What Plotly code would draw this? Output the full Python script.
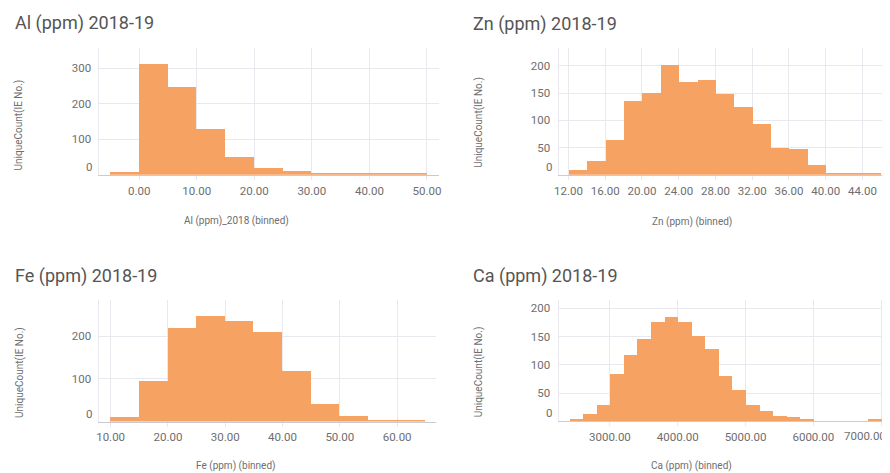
import plotly.graph_objects as go

# ---------------- data ----------------
al_bin_starts = [-5, 0, 5, 10, 15, 20, 25, 30, 35, 40, 45]
al_counts = [9, 311, 246, 128, 50, 20, 11, 6, 3, 2, 2]
al_bin_width = 5

zn_bin_starts = [12, 14, 16, 18, 20, 22, 24, 26, 28, 30, 32, 34, 36, 38, 40, 42, 44]
zn_counts = [8, 24, 63, 135, 149, 201, 170, 174, 148, 124, 93, 49, 47, 18, 3, 2, 2]
zn_bin_width = 2

fe_bin_starts = [10, 15, 20, 25, 30, 35, 40, 45, 50, 55, 60]
fe_counts = [10, 94, 220, 248, 235, 209, 118, 41, 14, 4, 2]
fe_bin_width = 5

ca_bin_starts = [2400, 2600, 2800, 3000, 3200, 3400, 3600, 3800, 4000, 4200,
                 4400, 4600, 4800, 5000, 5200, 5400, 5600, 5800, 6800]
ca_counts = [4, 13, 28, 84, 118, 145, 175, 185, 176, 150,
             127, 80, 55, 29, 19, 10, 7, 4, 4]
ca_bin_width = 200

titles = ["Al (ppm) 2018-19", "Zn (ppm) 2018-19", "Fe (ppm) 2018-19", "Ca (ppm) 2018-19"]
x_titles = ["Al (ppm)_2018 (binned)", "Zn (ppm) (binned)", "Fe (ppm) (binned)", "Ca (ppm) (binned)"]
y_title = "UniqueCount(IE No.)"

al_xticks = [0, 10, 20, 30, 40, 50]
al_xtick_labels = ["0.00", "10.00", "20.00", "30.00", "40.00", "50.00"]
zn_xticks = [12, 16, 20, 24, 28, 32, 36, 40, 44]
zn_xtick_labels = ["12.00", "16.00", "20.00", "24.00", "28.00", "32.00", "36.00", "40.00", "44.00"]
fe_xticks = [10, 20, 30, 40, 50, 60]
fe_xtick_labels = ["10.00", "20.00", "30.00", "40.00", "50.00", "60.00"]
ca_xticks = [3000, 4000, 5000, 6000, 7000]
ca_xtick_labels = ["3000.00", "4000.00", "5000.00", "6000.00", "7000.00"]

al_yticks = [0, 100, 200, 300]
zn_yticks = [0, 50, 100, 150, 200]
fe_yticks = [0, 100, 200]
ca_yticks = [0, 50, 100, 150, 200]

# ---------------- styling ----------------
# The page body has an 8px default margin: the figure is made 8px smaller
# and every reference pixel position is mapped with that offset.
OFF = 8
W, H = 890 - OFF, 473 - OFF
BAR = "#F6A263"
GRID = "#E8E8EE"
AXIS = "#CACAD4"
TICKC = "#6E6E6E"
TITLEC = "#555555"
FONT = "Roboto"
TFS = 11.5


def px(x):
    return (x - OFF) / W


def py(y):
    return 1 - (y - OFF) / H


panels = [
    # (starts, counts, width, xticks, xlabels, yticks, xrange, yrange, xdom(px), ydom(px))
    (al_bin_starts, al_counts, al_bin_width, al_xticks, al_xtick_labels, al_yticks,
     [-6.9, 52.1], [0, 357], (96, 438), (174.7, 48)),
    (zn_bin_starts, zn_counts, zn_bin_width, zn_xticks, zn_xtick_labels, zn_yticks,
     [10.92, 46.78], [0, 232], (558.3, 890), (174.8, 48.3)),
    (fe_bin_starts, fe_counts, fe_bin_width, fe_xticks, fe_xtick_labels, fe_yticks,
     [8.04, 66.8], [0, 285], (96, 435), (421.5, 300)),
    (ca_bin_starts, ca_counts, ca_bin_width, ca_xticks, ca_xtick_labels, ca_yticks,
     [2243, 7100], [0, 214.5], (558.3, 890), (421.3, 300)),
]

fig = go.Figure()
layout = {}
annotations = []

for i, (starts, counts, bw, xt, xl, yt, xr, yr, xd, yd) in enumerate(panels):
    n = "" if i == 0 else str(i + 1)
    # last label of the Ca axis is pulled inside the figure (as in the reference)
    shown_xl = list(xl)
    if i == 3:
        shown_xl[-1] = ""
        annotations.append(dict(
            text=xl[-1], xref="paper", yref="y4", x=1.0, y=0,
            xanchor="right", yanchor="top", yshift=-6, showarrow=False,
            font=dict(family=FONT, size=TFS, color=TICKC),
        ))
    fig.add_trace(go.Bar(
        x=starts, y=counts, width=bw, offset=0,
        marker=dict(color=BAR, line=dict(width=0)),
        xaxis="x" + n, yaxis="y" + n, showlegend=False,
        hoverinfo="x+y",
    ))
    layout["xaxis" + n] = dict(
        domain=[px(xd[0]), px(xd[1])], range=xr, anchor="y" + n,
        tickvals=xt, ticktext=shown_xl, showgrid=True, gridcolor=GRID, gridwidth=1,
        showline=True, linecolor=AXIS, linewidth=1, zeroline=False,
        ticks="outside", ticklen=4, tickcolor=GRID,
        tickfont=dict(family=FONT, size=TFS, color=TICKC),
        ticklabelstandoff=1, fixedrange=True,
    )
    # "0" label is drawn separately, shifted up (Spotfire-style)
    ytext = ["" if v == 0 else str(v) for v in yt]
    layout["yaxis" + n] = dict(
        domain=[py(yd[0]), py(yd[1])], range=yr, anchor="x" + n,
        tickvals=yt, ticktext=ytext, showgrid=True, gridcolor=GRID, gridwidth=1,
        showline=True, linecolor=GRID, linewidth=1, zeroline=False,
        ticks="", tickfont=dict(family=FONT, size=TFS, color=TICKC),
        ticklabelstandoff=5, fixedrange=True,
    )
    annotations.append(dict(
        text=str(yt[0]), xref="x" + n + " domain", yref="y" + n, x=0, y=yt[0],
        xanchor="right", yanchor="middle", xshift=-5, yshift=8, showarrow=False,
        font=dict(family=FONT, size=TFS, color=TICKC),
    ))

# panel titles
title_pos = [(9, 23.5), (470.5, 24), (9, 275.5), (470.5, 276)]
for t, (x, y) in zip(titles, title_pos):
    annotations.append(dict(
        text=t, xref="paper", yref="paper", x=px(x), y=py(y),
        xanchor="left", yanchor="middle", showarrow=False,
        font=dict(family=FONT, size=18, color=TITLEC),
    ))

# x-axis titles
xt_pos = [(234, 221), (692.5, 221.5), (234, 466), (692.5, 466)]
for t, (x, y) in zip(x_titles, xt_pos):
    annotations.append(dict(
        text=t, xref="paper", yref="paper", x=px(x), y=py(y),
        xanchor="center", yanchor="middle", showarrow=False,
        font=dict(family=FONT, size=10, color=TICKC),
    ))

# y-axis titles
yt_pos = [(15.5, 125), (478.5, 122.5), (15.5, 372.5), (478.5, 372)]
for (x, y) in yt_pos:
    annotations.append(dict(
        text=y_title, xref="paper", yref="paper", x=px(x), y=py(y),
        xanchor="center", yanchor="middle", textangle=-90, showarrow=False,
        font=dict(family=FONT, size=10, color=TICKC),
    ))

fig.update_layout(
    width=W, height=H, autosize=False,
    margin=dict(l=0, r=0, t=0, b=0),
    paper_bgcolor="white", plot_bgcolor="white",
    bargap=0, showlegend=False,
    annotations=annotations,
    **layout,
)

fig.write_html("out.html")
